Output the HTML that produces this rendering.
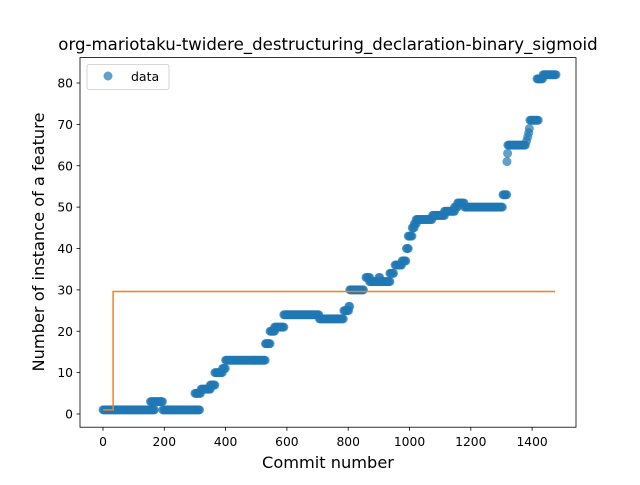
<!DOCTYPE html>
<html><head><meta charset="utf-8"><style>
body{margin:0;background:#fff}
svg{font-family:"DejaVu Sans","Liberation Sans",sans-serif}
</style></head><body>
<svg id="chart" width="640" height="480" viewBox="0 0 640 480">
<rect width="640" height="480" fill="#fff"/>
<g id="marks"></g>
<rect x="80" y="57.6" width="496" height="369.6" fill="none" stroke="#000" stroke-width="0.8"/>
<g id="axes"></g>
<text x="328" y="50" text-anchor="middle" font-size="16.6">org-mariotaku-twidere_destructuring_declaration-binary_sigmoid</text>
<text x="328" y="468" text-anchor="middle" font-size="16.2">Commit number</text>
<text transform="translate(44,242) rotate(-90)" text-anchor="middle" font-size="16.2">Number of instance of a feature</text>
<g>
<rect x="87" y="64.5" width="82" height="25" rx="2" fill="#fff" fill-opacity="0.8" stroke="#ccc" stroke-width="0.8"/>
<circle cx="108" cy="76" r="4.5" fill="#1f77b4" fill-opacity="0.7"/>
<text x="131" y="81" font-size="12.5">data</text>
</g>
</svg>
<script>
const segStart=[0,155,195,300,320,350,365,390,400,530,545,560,590,706,786,802,805,858,870,900,936,953,976,990,996,1009,1016,1022,1075,1114,1147,1157,1180,1305,1318,1320,1321,1382,1386,1389,1391,1393,1416,1436];
const segEnd=[170,194,315,320,350,365,390,400,530,545,560,590,706,786,802,805,851,870,936,905,950,976,990,996,1009,1016,1022,1075,1114,1147,1157,1180,1305,1318,1318,1320,1380,1384,1388,1390,1392,1420,1436,1480];
const segValue=[1,3,1,5,6,7,10,11,13,17,20,21,24,23,25,26,30,33,32,33,34,36,37,40,43,45,46,47,48,49,50,51,50,53,61,63,65,66,67,68,69,71,81,82];
const fitX=[0,33,33,1475];
const fitY=[1,1,29.6,29.6];
const xTicks=[0,200,400,600,800,1000,1200,1400];
const yTicks=[0,10,20,30,40,50,60,70,80];
const NS="http://www.w3.org/2000/svg";
const sx=v=>103+v*0.3065;
const sy=v=>414-v*4.1375;
const marks=document.getElementById('marks');
const axes=document.getElementById('axes');
for(let i=0;i<segStart.length;i++){
  for(let c=segStart[i];c<=segEnd[i];c+=3){
    const p=document.createElementNS(NS,'circle');
    p.setAttribute('cx',sx(c));p.setAttribute('cy',sy(segValue[i]));
    p.setAttribute('r',4.5);p.setAttribute('fill','#1f77b4');p.setAttribute('fill-opacity','0.7');
    
    
    marks.appendChild(p);
  }
}
const line=document.createElementNS(NS,'polyline');
line.setAttribute('points',fitX.map((x,i)=>sx(x)+','+sy(fitY[i])).join(' '));
line.setAttribute('fill','none');line.setAttribute('stroke','#ff7f0e');line.setAttribute('stroke-width','1.5');


marks.appendChild(line);
xTicks.forEach(t=>{
  const l=document.createElementNS(NS,'line');
  l.setAttribute('x1',sx(t));l.setAttribute('x2',sx(t));l.setAttribute('y1',427.2);l.setAttribute('y2',430.7);l.setAttribute('stroke','#000');l.setAttribute('stroke-width','0.8');
  
  
  axes.appendChild(l);
  const tx=document.createElementNS(NS,'text');
  tx.setAttribute('x',sx(t));tx.setAttribute('y',446);tx.setAttribute('text-anchor','middle');tx.setAttribute('font-size','12.3');tx.textContent=t;
  
  
  axes.appendChild(tx);
});
yTicks.forEach(t=>{
  const l=document.createElementNS(NS,'line');
  l.setAttribute('x1',76.5);l.setAttribute('x2',80);l.setAttribute('y1',sy(t));l.setAttribute('y2',sy(t));l.setAttribute('stroke','#000');l.setAttribute('stroke-width','0.8');
  
  
  axes.appendChild(l);
  const tx=document.createElementNS(NS,'text');
  tx.setAttribute('x',73);tx.setAttribute('y',sy(t)+4.5);tx.setAttribute('text-anchor','end');tx.setAttribute('font-size','12.3');tx.textContent=t;
  
  
  axes.appendChild(tx);
});
</script>
</body></html>
